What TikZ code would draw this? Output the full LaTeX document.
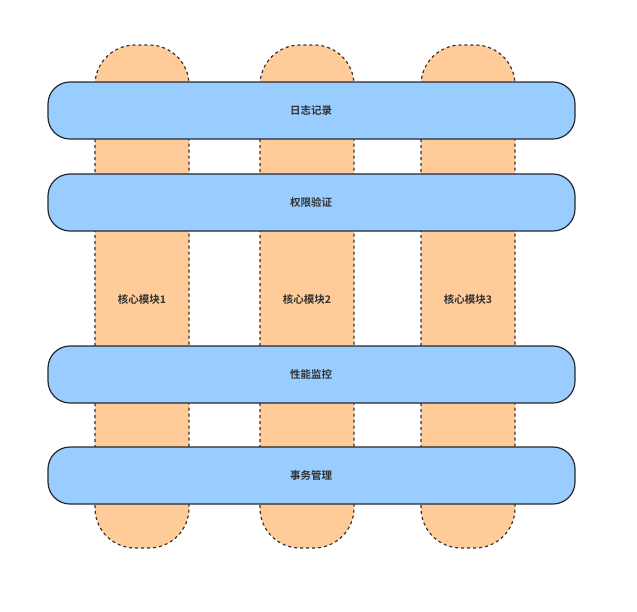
\documentclass[tikz,border=0pt]{standalone}
\usepackage{fontspec}
\setmainfont{Noto Sans CJK SC}[BoldFont={Noto Sans CJK SC Bold}]
\begin{document}
\begin{tikzpicture}[x=1pt,y=-1pt,
  col/.style={draw=black!80,fill=orange!20!white,fill={rgb,255:red,255;green,204;blue,153},dashed,line width=1.2pt,rounded corners=40pt},
  bar/.style={draw={rgb,255:red,36;green,41;blue,46},fill={rgb,255:red,153;green,204;blue,255},line width=1.2pt,rounded corners=22pt},
  lbl/.style={font=\bfseries\fontsize{10.5}{12}\selectfont,text={rgb,255:red,51;green,51;blue,51}}]
\useasboundingbox (0,0) rectangle (637,611);
\foreach \x/\n in {95/1,260/2,421/3}{
  \draw[col] (\x,45) rectangle (\x+94,548);
  \node[lbl] (m\n) at (\x+47,299) {核心模块\n};
}
\foreach \y/\t/\n in {82/日志记录/a,174/权限验证/b,346/性能监控/c,447/事务管理/d}{
  \draw[bar] (48,\y) rectangle (575,\y+57);
  \node[lbl] (\n) at (311,\y+28.5) {\t};
}
\end{tikzpicture}
\end{document}
